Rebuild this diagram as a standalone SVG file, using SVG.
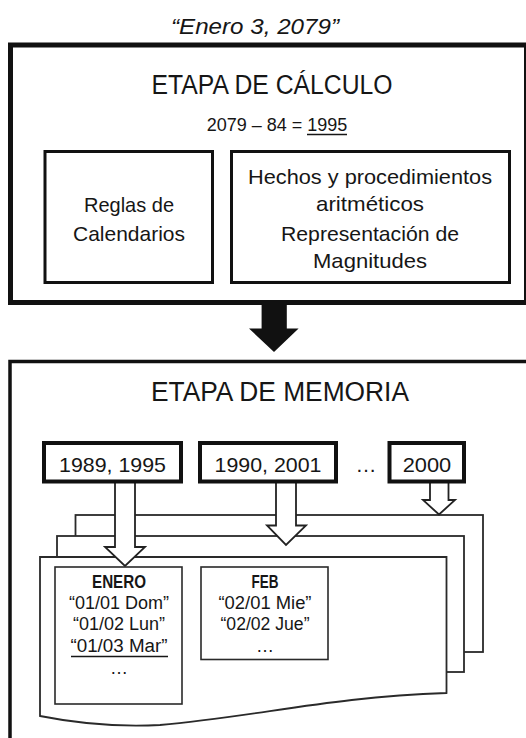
<svg xmlns="http://www.w3.org/2000/svg" width="526" height="738" viewBox="0 0 526 738">
<style>
text{font-family:"Liberation Sans",Arial,sans-serif;fill:#161616;text-anchor:middle}
.big{font-size:27px}
.mid{font-size:21px}
.sm{font-size:18px}
.dt{font-size:18px}
.b{font-weight:bold}
.ol{fill:none;stroke:#111}
.pg{fill:#fff;stroke:#2a2a2a;stroke-width:1.8}
.ha{fill:#fff;stroke:#222;stroke-width:1.8;stroke-linejoin:miter}
</style>
<rect width="526" height="738" fill="#fff"/>
<g id="title"><text x="255" y="33.5" font-size="22" font-style="italic" textLength="168" lengthAdjust="spacingAndGlyphs">“Enero 3, 2079”</text></g>
<g id="calculo">
<rect class="ol" x="10.5" y="45" width="516" height="257.5" stroke-width="5"/>
<text class="big" x="272" y="94" textLength="241" lengthAdjust="spacingAndGlyphs">ETAPA DE CÁLCULO</text>
<text class="sm" x="277" y="131">2079 – 84 = 1995</text>
<line x1="307" y1="134.5" x2="347" y2="134.5" stroke="#161616" stroke-width="1.5"/>
</g>
<g id="reglas">
<rect class="ol" x="45" y="151.5" width="167.5" height="131" stroke-width="3"/>
<text class="mid" x="129" y="212" textLength="90" lengthAdjust="spacingAndGlyphs">Reglas de</text>
<text class="mid" x="129" y="241" textLength="112" lengthAdjust="spacingAndGlyphs">Calendarios</text>
</g>
<g id="hechos">
<rect class="ol" x="231.5" y="151.5" width="278" height="131" stroke-width="3"/>
<text class="mid" x="370" y="183.7" textLength="244" lengthAdjust="spacingAndGlyphs">Hechos y procedimientos</text>
<text class="mid" x="370" y="211" textLength="108" lengthAdjust="spacingAndGlyphs">aritméticos</text>
<text class="mid" x="370" y="241" textLength="178" lengthAdjust="spacingAndGlyphs">Representación de</text>
<text class="mid" x="370" y="268" textLength="114" lengthAdjust="spacingAndGlyphs">Magnitudes</text>
</g>
<g id="connectors">
<polygon points="261.6,303 286.8,303 286.8,328.5 298.6,328.5 274,352 249,328.5 261.6,328.5" fill="#111"/>
</g>
<g id="memoria">
<rect class="ol" x="10" y="361.5" width="520" height="400" stroke-width="3.5"/>
<text class="big" x="280" y="400.6" textLength="258" lengthAdjust="spacingAndGlyphs">ETAPA DE MEMORIA</text>
</g>
<g id="pages">
<rect class="pg" x="75.5" y="515" width="407.5" height="137"/>
<rect class="pg" x="57" y="536" width="407" height="136"/>
<path class="pg" d="M40,557 H446.5 V693 C330,697 260,716 160,725 C120,727 80,724 40,716 Z"/>
</g>
<g id="hollow-arrows">
<polygon class="ha" points="115,482 135,482 135,547 145,547 125,566 105,547 115,547"/>
<polygon class="ha" points="276,482 296,482 296,525.5 306,525.5 286,545 267,525.5 276,525.5"/>
<polygon class="ha" points="430,482 448.5,482 448.5,500 455,500 439,514.5 423,500 430,500"/>
</g>
<g id="y1"><rect x="44" y="443" width="137" height="38.5" fill="#fff" stroke="#111" stroke-width="4"/><text class="mid" x="112.5" y="472" textLength="107" lengthAdjust="spacingAndGlyphs">1989, 1995</text></g>
<g id="y2"><rect x="200" y="443" width="136" height="38.5" fill="#fff" stroke="#111" stroke-width="4"/><text class="mid" x="268" y="472" textLength="107" lengthAdjust="spacingAndGlyphs">1990, 2001</text></g>
<g id="dots"><text class="mid" x="366" y="472">…</text></g>
<g id="y3"><rect x="389.5" y="443" width="74.5" height="38.5" fill="#fff" stroke="#111" stroke-width="4"/><text class="mid" x="427" y="472" textLength="48.5" lengthAdjust="spacingAndGlyphs">2000</text></g>
<g id="enero">
<rect x="55" y="567" width="127" height="137" fill="#fff" stroke="#2a2a2a" stroke-width="1.6"/>
<text class="dt b" x="119" y="588" textLength="54" lengthAdjust="spacingAndGlyphs">ENERO</text>
<text class="dt" x="119" y="608.5" textLength="100" lengthAdjust="spacingAndGlyphs">“01/01 Dom”</text>
<text class="dt" x="119" y="630" textLength="92" lengthAdjust="spacingAndGlyphs">“01/02 Lun”</text>
<text class="dt" x="119" y="652" textLength="97" lengthAdjust="spacingAndGlyphs">“01/03 Mar”</text>
<line x1="71" y1="656.5" x2="168" y2="656.5" stroke="#161616" stroke-width="1.4"/>
<text class="dt" x="119" y="674">…</text>
</g>
<g id="feb">
<rect x="201" y="567" width="127" height="92.5" fill="#fff" stroke="#2a2a2a" stroke-width="1.6"/>
<text class="dt b" x="265" y="588" textLength="27" lengthAdjust="spacingAndGlyphs">FEB</text>
<text class="dt" x="265" y="608.5" textLength="93" lengthAdjust="spacingAndGlyphs">“02/01 Mie”</text>
<text class="dt" x="265" y="630" textLength="89" lengthAdjust="spacingAndGlyphs">“02/02 Jue”</text>
<text class="dt" x="265" y="652">…</text>
</g>
</svg>
